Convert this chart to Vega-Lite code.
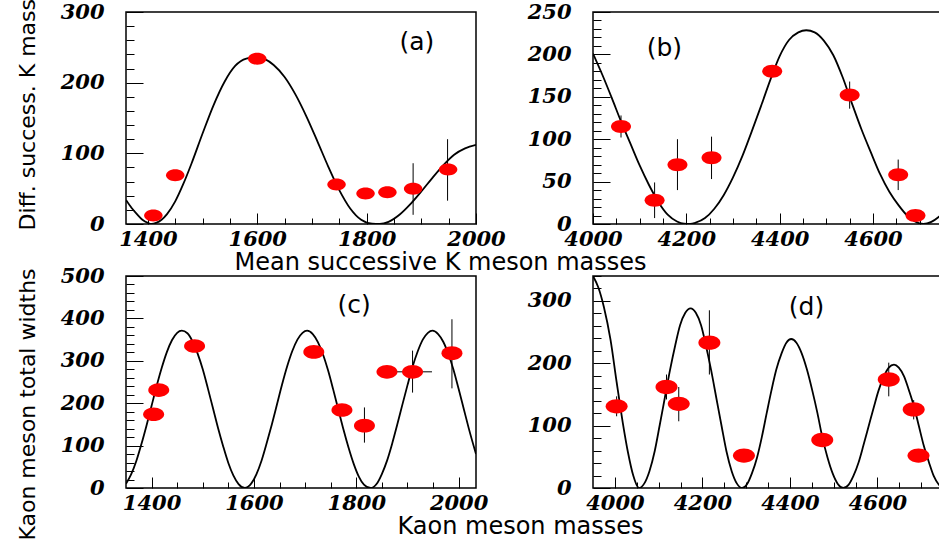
{
  "$schema": "https://vega.github.io/schema/vega-lite/v6.json",
  "autosize": {"type": "none"},
  "padding": {"left": 126, "top": 12, "right": 813, "bottom": 534},
  "background": "white",
  "columns": 2,
  "bounds": "flush",
  "spacing": {"row": 52, "column": 117},
  "datasets": {
    "curveA": [
      {"x":1360,"y":34},{"x":1370,"y":23},{"x":1380,"y":14},{"x":1390,"y":6},{"x":1400,"y":1.5},{"x":1407,"y":0},{"x":1415,"y":1.5},{"x":1425,"y":6},{"x":1435,"y":14},{"x":1450,"y":32},{"x":1465,"y":57},{"x":1480,"y":86},{"x":1500,"y":128},{"x":1520,"y":168},{"x":1540,"y":201},{"x":1560,"y":224},{"x":1580,"y":234},{"x":1598,"y":236},{"x":1615,"y":233},{"x":1630,"y":225},{"x":1650,"y":208},{"x":1670,"y":183},{"x":1690,"y":152},{"x":1710,"y":117},{"x":1730,"y":81},{"x":1750,"y":48},{"x":1770,"y":22},{"x":1790,"y":6},{"x":1810,"y":0.5},{"x":1824,"y":0},{"x":1840,"y":3},{"x":1860,"y":13},{"x":1880,"y":28},{"x":1900,"y":46},{"x":1920,"y":65},{"x":1940,"y":83},{"x":1960,"y":98},{"x":1980,"y":107},{"x":2000,"y":112}
    ],
    "ptsA": [
      {"x":1410,"y":12},{"x":1450,"y":69},{"x":1600,"y":234},{"x":1745,"y":56},{"x":1798,"y":43},{"x":1838,"y":45},{"x":1885,"y":50},{"x":1949,"y":77}
    ],
    "errA": [
      {"x":1885,"y":13,"hi":86},{"x":1948,"y":33,"hi":120}
    ],
    "curveB": [
      {"x":4000,"y":201},{"x":4020,"y":176},{"x":4040,"y":149},{"x":4060,"y":121},{"x":4080,"y":95},{"x":4100,"y":69},{"x":4120,"y":46},{"x":4140,"y":26},{"x":4160,"y":11},{"x":4180,"y":3},{"x":4195,"y":0.3},{"x":4208,"y":0},{"x":4220,"y":1.5},{"x":4240,"y":7},{"x":4260,"y":18},{"x":4280,"y":34},{"x":4300,"y":55},{"x":4320,"y":80},{"x":4340,"y":109},{"x":4360,"y":139},{"x":4380,"y":170},{"x":4400,"y":198},{"x":4420,"y":217},{"x":4440,"y":226},{"x":4457,"y":228.5},{"x":4475,"y":226},{"x":4495,"y":216},{"x":4515,"y":199},{"x":4535,"y":173},{"x":4555,"y":142},{"x":4575,"y":112},{"x":4595,"y":85},{"x":4615,"y":59},{"x":4635,"y":38},{"x":4655,"y":22},{"x":4675,"y":9},{"x":4690,"y":3},{"x":4708,"y":0},{"x":4725,"y":2.5},{"x":4740,"y":8},{"x":4750,"y":13}
    ],
    "ptsB": [
      {"x":4060,"y":115},{"x":4132,"y":28},{"x":4181,"y":70},{"x":4254,"y":78},{"x":4384,"y":180},{"x":4550,"y":152},{"x":4654,"y":58},{"x":4691,"y":10}
    ],
    "errB": [
      {"x":4060,"y":102,"hi":128},{"x":4132,"y":7,"hi":49},{"x":4181,"y":40,"hi":100},{"x":4254,"y":53,"hi":103},{"x":4550,"y":136,"hi":168},{"x":4654,"y":40,"hi":76}
    ],
    "curveC": [
      {"x":1350,"y":10},{"x":1360,"y":32},{"x":1370,"y":63},{"x":1380,"y":103},{"x":1390,"y":147},{"x":1400,"y":194},{"x":1410,"y":241},{"x":1420,"y":284},{"x":1430,"y":321},{"x":1440,"y":349},{"x":1450,"y":366},{"x":1459,"y":371},{"x":1470,"y":365},{"x":1480,"y":346},{"x":1490,"y":317},{"x":1500,"y":280},{"x":1510,"y":235},{"x":1520,"y":188},{"x":1530,"y":141},{"x":1540,"y":98},{"x":1550,"y":59},{"x":1560,"y":29},{"x":1570,"y":9},{"x":1582,"y":0},{"x":1595,"y":11},{"x":1605,"y":33},{"x":1615,"y":65},{"x":1625,"y":106},{"x":1635,"y":150},{"x":1645,"y":197},{"x":1655,"y":244},{"x":1665,"y":287},{"x":1675,"y":323},{"x":1685,"y":350},{"x":1695,"y":366},{"x":1704,"y":371},{"x":1715,"y":363},{"x":1725,"y":344},{"x":1735,"y":315},{"x":1745,"y":277},{"x":1755,"y":232},{"x":1765,"y":185},{"x":1775,"y":138},{"x":1785,"y":95},{"x":1795,"y":57},{"x":1805,"y":27},{"x":1815,"y":8},{"x":1828,"y":0},{"x":1840,"y":10},{"x":1850,"y":33},{"x":1860,"y":64},{"x":1870,"y":104},{"x":1880,"y":149},{"x":1890,"y":196},{"x":1900,"y":242},{"x":1910,"y":286},{"x":1920,"y":322},{"x":1930,"y":350},{"x":1940,"y":366},{"x":1949,"y":371},{"x":1960,"y":363},{"x":1970,"y":345},{"x":1980,"y":316},{"x":1990,"y":279},{"x":2000,"y":234},{"x":2010,"y":187},{"x":2020,"y":140},{"x":2034,"y":80}
    ],
    "ptsC": [
      {"x":1404,"y":174},{"x":1414,"y":231},{"x":1484,"y":335},{"x":1717,"y":321},{"x":1772,"y":184},{"x":1816,"y":147},{"x":1860,"y":274},{"x":1910,"y":274},{"x":1987,"y":318}
    ],
    "errC": [
      {"x":1816,"y":107,"hi":190},{"x":1910,"y":225,"hi":324},{"x":1987,"y":235,"hi":398}
    ],
    "errCx": [
      {"x":1874,"hi":1948,"y":274}
    ],
    "curveD": [
      {"x":3950,"y":340},{"x":3962,"y":322},{"x":3975,"y":290},{"x":3990,"y":238},{"x":4004,"y":170},{"x":4018,"y":105},{"x":4030,"y":57},{"x":4042,"y":20},{"x":4055,"y":0},{"x":4067,"y":7},{"x":4079,"y":27},{"x":4091,"y":59},{"x":4102,"y":99},{"x":4114,"y":144},{"x":4126,"y":189},{"x":4138,"y":229},{"x":4149,"y":261},{"x":4161,"y":281},{"x":4173,"y":288},{"x":4185,"y":281},{"x":4197,"y":261},{"x":4208,"y":229},{"x":4220,"y":189},{"x":4232,"y":144},{"x":4244,"y":99},{"x":4255,"y":59},{"x":4267,"y":27},{"x":4279,"y":7},{"x":4291,"y":0},{"x":4302,"y":6},{"x":4313,"y":23},{"x":4325,"y":49},{"x":4336,"y":82},{"x":4347,"y":120},{"x":4358,"y":157},{"x":4369,"y":190},{"x":4381,"y":216},{"x":4392,"y":233},{"x":4403,"y":239},{"x":4415,"y":233},{"x":4427,"y":216},{"x":4439,"y":190},{"x":4451,"y":157},{"x":4463,"y":120},{"x":4474,"y":82},{"x":4486,"y":49},{"x":4498,"y":23},{"x":4510,"y":6},{"x":4522,"y":0},{"x":4534,"y":5},{"x":4545,"y":19},{"x":4557,"y":41},{"x":4568,"y":68},{"x":4580,"y":99},{"x":4592,"y":130},{"x":4603,"y":157},{"x":4615,"y":179},{"x":4626,"y":193},{"x":4638,"y":198},{"x":4649,"y":193},{"x":4661,"y":179},{"x":4672,"y":157},{"x":4684,"y":130},{"x":4695,"y":99},{"x":4706,"y":68},{"x":4718,"y":41},{"x":4729,"y":19},{"x":4741,"y":5},{"x":4750,"y":0}
    ],
    "ptsD": [
      {"x":4004,"y":131},{"x":4118,"y":162},{"x":4146,"y":135},{"x":4216,"y":233},{"x":4295,"y":52},{"x":4474,"y":77},{"x":4626,"y":174},{"x":4683,"y":126},{"x":4694,"y":52}
    ],
    "errD": [
      {"x":4004,"y":115,"hi":147},{"x":4118,"y":142,"hi":182},{"x":4146,"y":107,"hi":162},{"x":4216,"y":182,"hi":285},{"x":4626,"y":147,"hi":201},{"x":4683,"y":110,"hi":141}
    ]
  },
  "concat": [
    {
      "width": 350, "height": 212,
      "encoding": {
        "x": {"field": "x", "type": "quantitative", "scale": {"domain": [1360, 2000], "nice": false, "zero": false},
          "axis": {"values": [1400,1450,1500,1550,1600,1650,1700,1750,1800,1850,1900,1950,2000],
            "tickSize": {"condition": {"test": "datum.value % 200 === 0", "value": -11}, "value": -6},
            "labelExpr": "datum.value % 200 === 0 ? datum.label : ''", "labelPadding": 15, "format": "d",
            "title": "Mean successive K meson masses", "titleX": 314, "titleY": 45, "titleAlign": "center", "titleBaseline": "alphabetic", "titleFontSize": 24}},
        "y": {"field": "y", "type": "quantitative", "scale": {"domain": [0, 300], "nice": false},
          "axis": {"values": [0,20,40,60,80,100,120,140,160,180,200,220,240,260,280,300],
            "tickSize": {"condition": {"test": "datum.value % 100 === 0", "value": -17}, "value": -8},
            "labelExpr": "datum.value % 100 === 0 ? datum.label : ''", "labelPadding": 39, "format": "d",
            "title": "Diff. success. K masses", "titleX": -92, "titleY": 218, "titleAlign": "left", "titleBaseline": "alphabetic", "titleAngle": 270, "titleFontSize": 22}}
      },
      "layer": [
        {"data": {"name": "curveA"}, "mark": {"type": "line", "color": "black", "strokeWidth": 1.8, "interpolate": "monotone", "clip": true}, "encoding": {}},
        {"data": {"name": "errA"}, "mark": {"type": "rule", "color": "black", "strokeWidth": 1}, "encoding": {"y2": {"field": "hi"}}},
        {"data": {"name": "ptsA"}, "mark": {"type": "point", "shape": "M-1,0A1,0.65,0,1,0,1,0A1,0.65,0,1,0,-1,0Z", "filled": true, "color": "#ff0000", "opacity": 1, "size": 340, "strokeWidth": 0}},
        {"data": {"values": [{"x": 1892, "y": 258, "t": "(a)"}]}, "mark": {"type": "text", "font": "DejaVu Sans", "fontSize": 25, "align": "center", "baseline": "middle", "color": "black"}, "encoding": {"text": {"field": "t"}}}
      ]
    },
    {
      "width": 350, "height": 212,
      "encoding": {
        "x": {"field": "x", "type": "quantitative", "scale": {"domain": [4000, 4750], "nice": false, "zero": false},
          "axis": {"values": [4000,4050,4100,4150,4200,4250,4300,4350,4400,4450,4500,4550,4600,4650,4700,4750],
            "tickSize": {"condition": {"test": "datum.value % 200 === 0", "value": -11}, "value": -6},
            "labelExpr": "datum.value % 200 === 0 ? datum.label : ''", "labelPadding": 15, "format": "d", "title": null}},
        "y": {"field": "y", "type": "quantitative", "scale": {"domain": [0, 250], "nice": false},
          "axis": {"values": [0,10,20,30,40,50,60,70,80,90,100,110,120,130,140,150,160,170,180,190,200,210,220,230,240,250],
            "tickSize": {"condition": {"test": "datum.value % 50 === 0", "value": -17}, "value": -8},
            "labelExpr": "datum.value % 50 === 0 ? datum.label : ''", "labelPadding": 39, "format": "d", "title": null}}
      },
      "layer": [
        {"data": {"name": "curveB"}, "mark": {"type": "line", "color": "black", "strokeWidth": 1.8, "interpolate": "monotone", "clip": true}, "encoding": {}},
        {"data": {"name": "errB"}, "mark": {"type": "rule", "color": "black", "strokeWidth": 1}, "encoding": {"y2": {"field": "hi"}}},
        {"data": {"name": "ptsB"}, "mark": {"type": "point", "shape": "M-1,0A1,0.65,0,1,0,1,0A1,0.65,0,1,0,-1,0Z", "filled": true, "color": "#ff0000", "opacity": 1, "size": 400, "strokeWidth": 0}},
        {"data": {"values": [{"x": 4153, "y": 207, "t": "(b)"}]}, "mark": {"type": "text", "font": "DejaVu Sans", "fontSize": 25, "align": "center", "baseline": "middle", "color": "black"}, "encoding": {"text": {"field": "t"}}}
      ]
    },
    {
      "width": 350, "height": 212,
      "encoding": {
        "x": {"field": "x", "type": "quantitative", "scale": {"domain": [1350, 2034], "nice": false, "zero": false},
          "axis": {"values": [1400,1450,1500,1550,1600,1650,1700,1750,1800,1850,1900,1950,2000],
            "tickSize": {"condition": {"test": "datum.value % 200 === 0", "value": -11}, "value": -6},
            "labelExpr": "datum.value % 200 === 0 ? datum.label : ''", "labelPadding": 15, "format": "d",
            "title": "Kaon meson masses", "titleX": 394, "titleY": 45, "titleAlign": "center", "titleBaseline": "alphabetic", "titleFontSize": 24}},
        "y": {"field": "y", "type": "quantitative", "scale": {"domain": [0, 500], "nice": false},
          "axis": {"values": [0,20,40,60,80,100,120,140,160,180,200,220,240,260,280,300,320,340,360,380,400,420,440,460,480,500],
            "tickSize": {"condition": {"test": "datum.value % 100 === 0", "value": -17}, "value": -8},
            "labelExpr": "datum.value % 100 === 0 ? datum.label : ''", "labelPadding": 39, "format": "d",
            "title": "Kaon meson total widths", "titleX": -92, "titleY": 128, "titleAlign": "center", "titleBaseline": "alphabetic", "titleAngle": 270, "titleFontSize": 22}}
      },
      "layer": [
        {"data": {"name": "curveC"}, "mark": {"type": "line", "color": "black", "strokeWidth": 1.8, "interpolate": "monotone", "clip": true}, "encoding": {}},
        {"data": {"name": "errC"}, "mark": {"type": "rule", "color": "black", "strokeWidth": 1}, "encoding": {"y2": {"field": "hi"}}},
        {"data": {"name": "errCx"}, "mark": {"type": "rule", "color": "black", "strokeWidth": 1}, "encoding": {"x2": {"field": "hi"}}},
        {"data": {"name": "ptsC"}, "mark": {"type": "point", "shape": "M-1,0A1,0.65,0,1,0,1,0A1,0.65,0,1,0,-1,0Z", "filled": true, "color": "#ff0000", "opacity": 1, "size": 441, "strokeWidth": 0}},
        {"data": {"values": [{"x": 1796, "y": 431, "t": "(c)"}]}, "mark": {"type": "text", "font": "DejaVu Sans", "fontSize": 25, "align": "center", "baseline": "middle", "color": "black"}, "encoding": {"text": {"field": "t"}}}
      ]
    },
    {
      "width": 350, "height": 212,
      "encoding": {
        "x": {"field": "x", "type": "quantitative", "scale": {"domain": [3950, 4750], "nice": false, "zero": false},
          "axis": {"values": [4000,4050,4100,4150,4200,4250,4300,4350,4400,4450,4500,4550,4600,4650,4700],
            "tickSize": {"condition": {"test": "datum.value % 200 === 0", "value": -11}, "value": -6},
            "labelExpr": "datum.value % 200 === 0 ? datum.label : ''", "labelPadding": 15, "format": "d", "title": null}},
        "y": {"field": "y", "type": "quantitative", "scale": {"domain": [0, 340], "nice": false},
          "axis": {"values": [0,20,40,60,80,100,120,140,160,180,200,220,240,260,280,300,320,340],
            "tickSize": {"condition": {"test": "datum.value % 100 === 0", "value": -17}, "value": -8},
            "labelExpr": "datum.value % 100 === 0 ? datum.label : ''", "labelPadding": 39, "format": "d", "title": null}}
      },
      "layer": [
        {"data": {"name": "curveD"}, "mark": {"type": "line", "color": "black", "strokeWidth": 1.8, "interpolate": "monotone", "clip": true}, "encoding": {}},
        {"data": {"name": "errD"}, "mark": {"type": "rule", "color": "black", "strokeWidth": 1}, "encoding": {"y2": {"field": "hi"}}},
        {"data": {"name": "ptsD"}, "mark": {"type": "point", "shape": "M-1,0A1,0.65,0,1,0,1,0A1,0.65,0,1,0,-1,0Z", "filled": true, "color": "#ff0000", "opacity": 1, "size": 484, "strokeWidth": 0}},
        {"data": {"values": [{"x": 4438, "y": 290, "t": "(d)"}]}, "mark": {"type": "text", "font": "DejaVu Sans", "fontSize": 25, "align": "center", "baseline": "middle", "color": "black"}, "encoding": {"text": {"field": "t"}}}
      ]
    }
  ],
  "config": {
    "view": {"stroke": "black", "strokeWidth": 1.5},
    "axis": {
      "domain": false,
      "grid": false,
      "tickColor": "black",
      "tickWidth": 1,
      "labelFont": "DejaVu Serif",
      "labelFontWeight": "bold",
      "labelFontStyle": "italic",
      "labelFontSize": 21,
      "labelColor": "black",
      "labelOverlap": false,
      "labelFlush": false,
      "titleFont": "DejaVu Sans",
      "titleFontWeight": "normal",
      "titleColor": "black"
    }
  }
}
